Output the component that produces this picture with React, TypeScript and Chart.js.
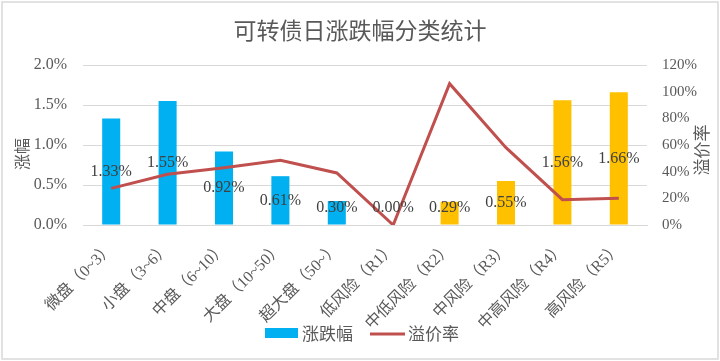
import React, { useEffect, useRef } from "react";
import { Chart, registerables } from "chart.js";

Chart.register(...registerables);

const categories = [
  "微盘（0~3）",
  "小盘（3~6）",
  "中盘（6~10）",
  "大盘（10~50）",
  "超大盘（50~）",
  "低风险（R1）",
  "中低风险（R2）",
  "中风险（R3）",
  "中高风险（R4）",
  "高风险（R5）",
];
const changeValues = [1.33, 1.55, 0.92, 0.61, 0.3, 0.0, 0.29, 0.55, 1.56, 1.66];
const premiumValues = [27.5, 38, 43, 48.5, 39, 0, 106, 58, 19, 20];
const barColors = [
  "#00B0F0", "#00B0F0", "#00B0F0", "#00B0F0", "#00B0F0", "#00B0F0",
  "#FFC000", "#FFC000", "#FFC000", "#FFC000",
];
const titleText = "可转债日涨跌幅分类统计";
const leftTitle = "涨幅";
const rightTitle = "溢价率";
const barLabel = "涨跌幅";
const lineLabel = "溢价率";

const FONT = "'Liberation Serif', 'Noto Sans CJK SC', serif";
const CJK = "'Noto Sans CJK SC', sans-serif";
const TEXT = "#595959";

const decorPlugin = {
  id: "decor",
  afterDatasetsDraw(chart: any) {
    const ctx = chart.ctx;
    const yL = chart.scales.y;
    const meta = chart.getDatasetMeta(0);
    ctx.save();
    ctx.font = `16px ${FONT}`;
    ctx.fillStyle = "#404040";
    ctx.textAlign = "center";
    ctx.textBaseline = "middle";
    meta.data.forEach((bar: any, i: number) => {
      const v = changeValues[i];
      let y = yL.getPixelForValue(v / 2);
      if (y > 208) y = 208;
      ctx.fillText(v.toFixed(2) + "%", bar.x, y);
    });
    ctx.restore();
  },
  afterDraw(chart: any) {
    const ctx = chart.ctx;
    const W = chart.width;
    const H = chart.height;
    ctx.save();
    ctx.strokeStyle = "#D9D9D9";
    ctx.lineWidth = 1.5;
    ctx.strokeRect(2, 2, W - 4, H - 4);
    ctx.fillStyle = TEXT;
    ctx.font = `23px ${CJK}`;
    ctx.textAlign = "center";
    ctx.textBaseline = "middle";
    ctx.fillText(titleText, W / 2, 30);
    ctx.font = `16px ${CJK}`;
    ctx.save();
    ctx.translate(22, 154);
    ctx.rotate(-Math.PI / 2);
    ctx.fillText(leftTitle, 0, 0);
    ctx.restore();
    ctx.font = `17px ${CJK}`;
    ctx.save();
    ctx.translate(702, 150);
    ctx.rotate(-Math.PI / 2);
    ctx.fillText(rightTitle, 0, 0);
    ctx.restore();
    ctx.font = `17px ${CJK}`;
    ctx.textAlign = "left";
    ctx.fillStyle = "#00B0F0";
    ctx.fillRect(265, 328, 33, 10);
    ctx.fillStyle = TEXT;
    ctx.fillText(barLabel, 302, 334);
    ctx.strokeStyle = "#C0504D";
    ctx.lineWidth = 3;
    ctx.beginPath();
    ctx.moveTo(370, 334);
    ctx.lineTo(405, 334);
    ctx.stroke();
    ctx.fillText(lineLabel, 408, 334);
    ctx.restore();
  },
};

export default function App() {
  const ref = useRef<HTMLCanvasElement>(null);
  useEffect(() => {
    const chart = new Chart(ref.current!, {
      type: "bar",
      data: {
        labels: categories,
        datasets: [
          {
            type: "bar",
            label: barLabel,
            data: changeValues,
            backgroundColor: barColors,
            barPercentage: 0.32,
            categoryPercentage: 1,
            yAxisID: "y",
            order: 1,
          },
          {
            type: "line",
            label: lineLabel,
            data: premiumValues,
            borderColor: "#C0504D",
            backgroundColor: "#C0504D",
            borderWidth: 3,
            pointRadius: 0,
            tension: 0,
            yAxisID: "y1",
            order: 0,
          } as any,
        ],
      },
      options: {
        animation: false,
        responsive: false,
        devicePixelRatio: 1,
        layout: { padding: { top: 65, left: 0, right: 0, bottom: 0 } },
        plugins: {
          legend: { display: false },
          title: { display: false },
          tooltip: { enabled: false },
        },
        scales: {
          x: {
            grid: { display: false, drawTicks: false },
            border: { display: true, color: "#D9D9D9" },
            ticks: {
              color: TEXT,
              font: { size: 16, family: FONT },
              maxRotation: 45,
              minRotation: 45,
              autoSkip: false,
              padding: 14,
            },
            afterFit(scale: any) {
              scale.height = 136;
            },
          },
          y: {
            position: "left",
            min: 0,
            max: 2,
            grid: { color: "#D9D9D9", drawTicks: false },
            border: { display: false },
            ticks: {
              stepSize: 0.5,
              color: TEXT,
              font: { size: 16, family: FONT },
              padding: 16,
              callback: (v: any) => Number(v).toFixed(1) + "%",
            },
            afterFit(scale: any) {
              scale.width = 83;
            },
          },
          y1: {
            position: "right",
            min: 0,
            max: 120,
            grid: { display: false, drawTicks: false },
            border: { display: false },
            ticks: {
              stepSize: 20,
              color: TEXT,
              font: { size: 15, family: FONT },
              padding: 15,
              callback: (v: any) => v + "%",
            },
            afterFit(scale: any) {
              scale.width = 73;
            },
          },
        },
      },
      plugins: [decorPlugin],
    });
    return () => chart.destroy();
  }, []);
  return (
    <div style={{ position: "fixed", left: 0, top: 0, width: 720, height: 361, background: "#fff" }}>
      <canvas ref={ref} width={720} height={361} style={{ display: "block" }} />
    </div>
  );
}
